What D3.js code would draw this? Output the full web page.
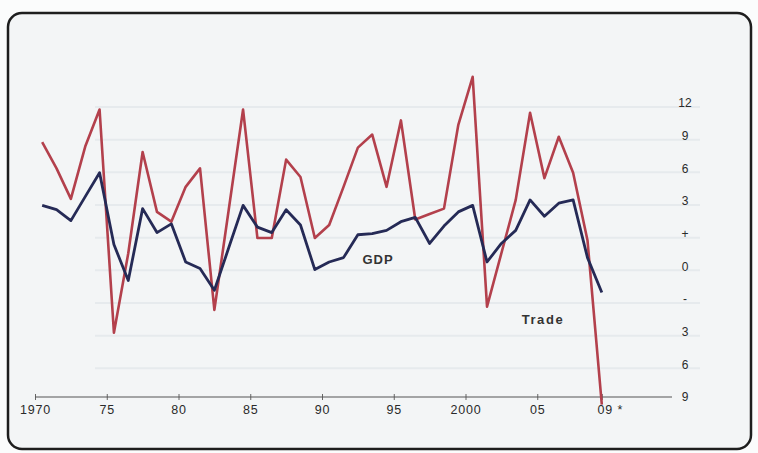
<!DOCTYPE html>
<html>
<head>
  <meta charset="utf-8">
  <title>GDP and Trade</title>
  <script src="https://d3js.org/d3.v7.min.js"></script>
  <style>
    body { margin: 0; background: #fbfcfc; }
    text { font-family: "Liberation Sans", Arial, sans-serif; fill: #2a2a2a; }
  </style>
</head>
<body>
  <svg id="chart" width="758" height="453"></svg>

  <script>
    // data (annual growth, %)
    const years = d3.range(1970, 2010);
    const trade = [8.4, 6.0, 3.2, 8.0, 11.4, -9.1, -1.8, 7.5, 2.0, 1.1,
                   4.3, 6.0, -7.0, 2.2, 11.4, -0.4, -0.4, 6.8, 5.2, -0.4,
                   0.8, 4.3, 7.9, 9.1, 4.3, 10.4, 1.3, 1.8, 2.3, 10.0,
                   14.4, -6.7, -1.8, 3.1, 11.1, 5.1, 8.9, 5.6, -0.6, -15.7];
    const gdp = [2.6, 2.2, 1.2, 3.4, 5.6, -1.0, -4.3, 2.3, 0.1, 0.9,
                 -2.6, -3.2, -5.2, -1.3, 2.6, 0.6, 0.1, 2.2, 0.8, -3.3,
                 -2.6, -2.2, -0.1, 0.0, 0.3, 1.1, 1.5, -0.9, 0.7, 2.0,
                 2.6, -2.6, -0.9, 0.3, 3.1, 1.6, 2.8, 3.1, -2.2, -5.4];
    const xTicks = [1970, 1975, 1980, 1985, 1990, 1995, 2000, 2005, 2009.5];
    const xTickLabels = ["1970", "75", "80", "85", "90", "95", "2000", "05", "09 *"];
    const yTicks = [12, 9, 6, 3, 0, -3, -6, -9, -12, -15];
    const yTickLabels = ["12", "9", "6", "3", "+", "0", "-", "3", "6", "9"];

    const svg = d3.select("#chart");

    // scanned frame
    svg.append("rect")
      .attr("x", 8).attr("y", 13)
      .attr("width", 743).attr("height", 436)
      .attr("rx", 14)
      .attr("fill", "#f3f5f6")
      .attr("stroke", "#1e1e1e")
      .attr("stroke-width", 2.5);

    const x = d3.scaleLinear().domain([1970, 2010]).range([35, 609]);
    const y = d3.scaleLinear().domain([-15, 12]).range([397, 103]);
    const xd = yr => x(yr + 0.5);

    // faint show-through lines from the scan
    svg.append("g")
      .selectAll("line")
      .data(yTicks.slice(0, -1))
      .join("line")
      .attr("x1", 95).attr("x2", 700)
      .attr("y1", d => y(d) + 4).attr("y2", d => y(d) + 4)
      .attr("stroke", "#e6eaed")
      .attr("stroke-width", 2);

    // x axis
    const xAxis = d3.axisBottom(x)
      .tickValues(xTicks)
      .tickSize(3)
      .tickSizeOuter(0)
      .tickFormat((d, i) => xTickLabels[i]);

    const gx = svg.append("g")
      .attr("transform", `translate(0,${y(-15)})`)
      .call(xAxis);
    gx.select(".domain").remove();
    gx.selectAll(".tick line").attr("stroke", "#666").attr("y1", -3);
    gx.selectAll(".tick text")
      .attr("y", 8)
      .attr("dx", (d, i) => i === xTicks.length - 1 ? 8 : 0)
      .style("font-size", "12.5px")
      .style("letter-spacing", "0.8px")
      .style("fill", "#2a2a2a");

    svg.append("line")
      .attr("x1", x.range()[0]).attr("x2", 672)
      .attr("y1", y(-15)).attr("y2", y(-15))
      .attr("stroke", "#555").attr("stroke-width", 1.2);

    // right-hand labels
    svg.append("g")
      .selectAll("text")
      .data(yTicks)
      .join("text")
      .attr("x", 685)
      .attr("y", d => y(d))
      .attr("dy", "0.35em")
      .attr("text-anchor", "middle")
      .style("font-size", "12px")
      .text((d, i) => yTickLabels[i]);

    // lines
    const line = d3.line()
      .x((d, i) => xd(years[i]))
      .y(d => y(d));

    svg.append("path")
      .datum(trade)
      .attr("fill", "none")
      .attr("stroke", "#b3404c")
      .attr("stroke-width", 2.6)
      .attr("stroke-linejoin", "round")
      .attr("d", line);

    svg.append("path")
      .datum(gdp)
      .attr("fill", "none")
      .attr("stroke", "#252a56")
      .attr("stroke-width", 2.8)
      .attr("stroke-linejoin", "round")
      .attr("d", line);

    // series labels
    svg.append("text")
      .attr("x", x(1993.9)).attr("y", y(-2.8))
      .attr("text-anchor", "middle")
      .style("font-size", "13px")
      .style("font-weight", "bold")
      .style("letter-spacing", "1px")
      .style("fill", "#333")
      .text("GDP");

    svg.append("text")
      .attr("x", x(2005.4)).attr("y", y(-8.3))
      .attr("text-anchor", "middle")
      .style("font-size", "13px")
      .style("font-weight", "bold")
      .style("letter-spacing", "1.6px")
      .style("fill", "#333")
      .text("Trade");
  </script>
</body>
</html>
